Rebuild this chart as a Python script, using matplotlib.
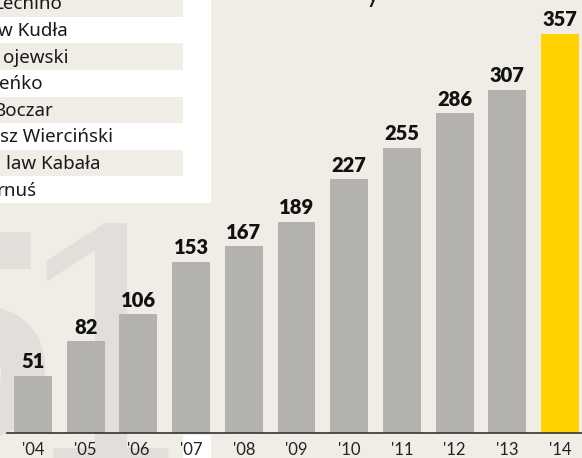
import matplotlib.pyplot as plt
from matplotlib.patches import Rectangle

plt.rcParams['font.family'] = ['Lato', 'DejaVu Sans']

years = ["'04", "'05", "'06", "'07", "'08", "'09", "'10", "'11", "'12", "'13", "'14"]
values = [51, 82, 106, 153, 167, 189, 227, 255, 286, 307, 357]
names = ["Lechino", "w Kudła", "ojewski", "eńko", "Boczar",
         "sz Wierciński", "law Kabała", "rnuś"]
name_ends = [62, 68, 68, 43, 53, 113, 101, 37]

bg = '#f0ede7'
grey = '#b3b2ae'
yellow = '#ffd200'

W, H = 582, 458
fig = plt.figure(figsize=(W / 100, H / 100), dpi=100, facecolor=bg)

# pixel-space layer: background, name table, watermark
px = fig.add_axes([0, 0, 1, 1], zorder=0)
px.set_xlim(0, W)
px.set_ylim(H, 0)
px.set_facecolor(bg)
px.axis('off')

wm = dict(color='#e2dfda', va='baseline')
px.text(110, 465, '1', ha='center', fontsize=235, family='DejaVu Serif', **wm)
px.text(58, 438, '5', ha='right', fontsize=208, family='Open Sans', fontweight='bold', **wm)

row_h = 26.6
top = 203 - row_h * 8
for i, name in enumerate(names):
    y0 = top + i * row_h
    px.add_patch(Rectangle((0, y0), 183, row_h, color=bg if i % 2 == 0 else 'white', lw=0))
    yc = y0 + row_h / 2 + 1 if i > 0 else 4
    px.text(name_ends[i], yc, name, fontsize=13.5, ha='right', va='center',
            family='Noto Sans', color='#1a1a1a')
px.add_patch(Rectangle((183, 0), 28, 203, color='white', lw=0))
px.add_patch(Rectangle((183, 435), 28, 30, color='white', lw=0))
px.text(366, 2, 'y', fontsize=20, ha='left', va='baseline', color='#1a1a1a')

# chart layer
ax = fig.add_axes([0, 0, 1, 1], zorder=1)
ax.patch.set_alpha(0)
x = list(range(len(values)))
colors = [grey] * (len(values) - 1) + [yellow]
ax.bar(x, values, width=0.72, color=colors)
for xi, v in zip(x, values):
    ax.text(xi, v + 4, str(v), ha='center', va='bottom', fontsize=14.5,
            fontweight='heavy', color='#111111')
    ax.text(xi, -15, years[xi], ha='center', va='center', fontsize=12, color='#222222')
ax.axhline(0, xmin=7 / W, xmax=1, color='#333333', lw=1.2)

ax.set_xlim(-0.626, 10.417)
ax.set_ylim(-22.4, 387.3)
ax.axis('off')

fig.savefig('out.png', dpi=100, facecolor=bg)
